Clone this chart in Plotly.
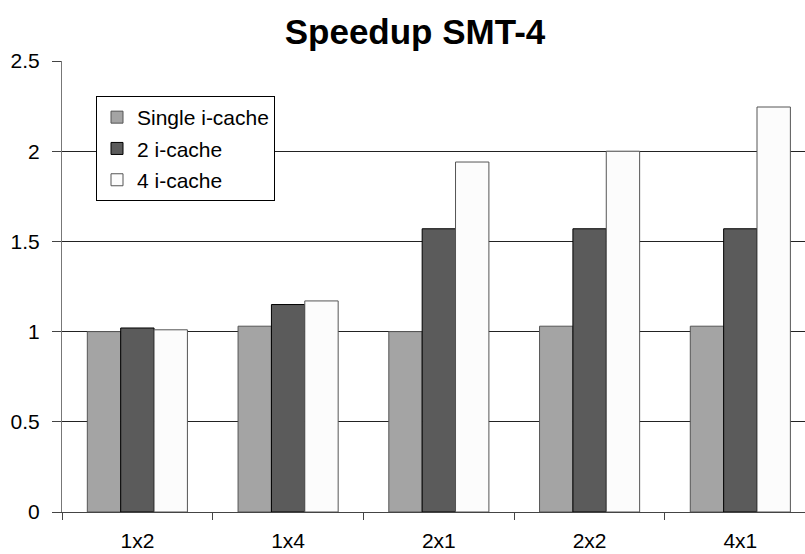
import plotly.graph_objects as go

categories = ["1x2", "1x4", "2x1", "2x2", "4x1"]
single_icache = [1.00, 1.03, 1.00, 1.03, 1.03]
two_icache = [1.02, 1.15, 1.57, 1.57, 1.57]
four_icache = [1.01, 1.17, 1.94, 2.00, 2.245]
y_ticks = [0, 0.5, 1, 1.5, 2, 2.5]
y_tick_text = ["0", "0.5", "1", "1.5", "2", "2.5"]

FONT = "Arial, Liberation Sans, sans-serif"

fig = go.Figure()
series = [
    ("Single i-cache", single_icache, "#a4a4a4", "#555555"),
    ("2 i-cache", two_icache, "#5b5b5b", "#000000"),
    ("4 i-cache", four_icache, "#fcfcfc", "#555555"),
]
for i, (name, vals, col, lc) in enumerate(series):
    fig.add_trace(go.Bar(
        name=name, x=categories, y=vals,
        marker=dict(color=col, line=dict(color=lc, width=1)),
        legendgroup=f"g{i}",
    ))

fig.update_layout(
    width=805, height=554,
    margin=dict(l=62, r=0, t=61, b=42, autoexpand=False),
    paper_bgcolor="white", plot_bgcolor="white",
    barmode="group", bargap=0.336, bargroupgap=0,
    font=dict(family=FONT, color="black", size=21),
    title=dict(text="<b>Speedup SMT-4</b>", font=dict(size=35, family=FONT, color="black"),
               x=415/805, xanchor="center", xref="container",
               y=1-31.5/554, yanchor="middle", yref="container"),
    legend=dict(
        x=(96-62)/743, y=(512-96)/451, xanchor="left", yanchor="top",
        bgcolor="white", bordercolor="black", borderwidth=1,
        font=dict(size=21, family=FONT, color="black"),
        traceorder="grouped", tracegroupgap=1,
        itemwidth=30,
    ),
    showlegend=True,
)
fig.update_xaxes(
    type="category", range=[-0.5, 4.429], automargin=False,
    showline=True, linecolor="#444444", linewidth=1,
    ticks="outside", tickson="boundaries", ticklen=7, tickcolor="#444444",
    showgrid=False, ticklabelstandoff=10,
    tickfont=dict(size=21, family=FONT, color="black"),
)
fig.update_yaxes(
    range=[0, 2.5], tickvals=y_ticks, ticktext=y_tick_text, automargin=False,
    showline=True, linecolor="#777777", linewidth=1,
    ticks="outside", ticklen=9, tickcolor="#444444",
    showgrid=True, gridcolor="#222222", gridwidth=1,
    zeroline=False, ticklabelstandoff=8,
    tickfont=dict(size=21, family=FONT, color="black"),
)

fig.write_html("out.html")
